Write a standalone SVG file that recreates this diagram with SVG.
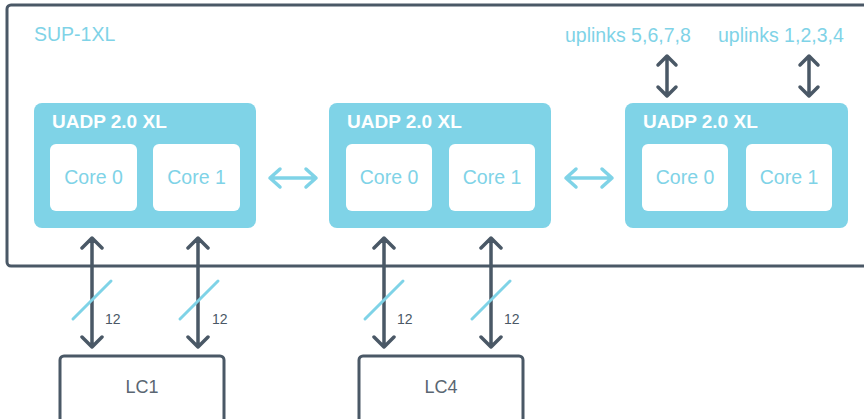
<svg xmlns="http://www.w3.org/2000/svg" width="864" height="419" viewBox="0 0 864 419">
<style>
.uadp{fill:#7fd3e7}
.core{fill:#ffffff}
.title{font-family:"Liberation Sans",Arial,sans-serif;font-weight:bold;font-size:19px;fill:#ffffff}
.coret{font-family:"Liberation Sans",Arial,sans-serif;font-size:19.5px;fill:#7fd3e7;text-anchor:middle}
.lbl{font-family:"Liberation Sans",Arial,sans-serif;font-size:19.5px;fill:#7fd3e7}
.n12{font-family:"Liberation Sans",Arial,sans-serif;font-size:14px;fill:#4a5866}
.lc{fill:#ffffff;stroke:#4a5866;stroke-width:3}
.lct{font-family:"Liberation Sans",Arial,sans-serif;font-size:18px;fill:#5a6672;text-anchor:middle}
.dark{stroke:#4a5866;stroke-width:3.5;fill:none;stroke-linecap:round;stroke-linejoin:round}
.light{stroke:#7fd3e7;stroke-width:3;fill:none;stroke-linecap:round;stroke-linejoin:round}
.lighta{stroke:#7fd3e7;stroke-width:3.5;fill:none;stroke-linecap:round;stroke-linejoin:round}
</style>
<rect width="864" height="419" fill="#ffffff"/>
<g id="sup">
<rect x="7" y="5" width="880" height="261" rx="4" fill="none" stroke="#4a5866" stroke-width="3"/>
<text class="lbl" x="34" y="41">SUP-1XL</text>
<text class="lbl" x="565" y="42">uplinks 5,6,7,8</text>
<text class="lbl" x="718" y="42">uplinks 1,2,3,4</text>
</g>
<g id="uadp1">
<rect class="uadp" x="34" y="103" width="222" height="125" rx="8"/>
<text class="title" x="52" y="128">UADP 2.0 XL</text>
<rect class="core" x="50" y="144" width="87" height="67" rx="6"/>
<text class="coret" x="93.5" y="184">Core 0</text>
<rect class="core" x="153" y="144" width="87" height="67" rx="6"/>
<text class="coret" x="196.5" y="184">Core 1</text>
</g>
<g id="uadp2">
<rect class="uadp" x="329" y="103" width="222" height="125" rx="8"/>
<text class="title" x="347" y="128">UADP 2.0 XL</text>
<rect class="core" x="346" y="144" width="86" height="67" rx="6"/>
<text class="coret" x="389" y="184">Core 0</text>
<rect class="core" x="449" y="144" width="86" height="67" rx="6"/>
<text class="coret" x="492" y="184">Core 1</text>
</g>
<g id="uadp3">
<rect class="uadp" x="625" y="103" width="223" height="125" rx="8"/>
<text class="title" x="643" y="128">UADP 2.0 XL</text>
<rect class="core" x="642" y="144" width="86" height="67" rx="6"/>
<text class="coret" x="685" y="184">Core 0</text>
<rect class="core" x="746" y="144" width="86" height="67" rx="6"/>
<text class="coret" x="789" y="184">Core 1</text>
</g>
<g id="lc1">
<rect class="lc" x="60" y="356" width="164" height="80" rx="4"/>
<text class="lct" x="142" y="393">LC1</text>
</g>
<g id="lc4">
<rect class="lc" x="359" y="356" width="164" height="80" rx="4"/>
<text class="lct" x="441" y="393">LC4</text>
</g>
<g id="connectors">
<path class="lighta" d="M270 178H316M280 169L270 178L280 187M306 169L316 178L306 187"/>
<path class="lighta" d="M566 178H612M576 169L566 178L576 187M602 169L612 178L602 187"/>
<path class="dark" d="M667 56V96M658 65L667 56L676 65M658 87L667 96L676 87"/>
<path class="dark" d="M809 56V96M800 65L809 56L818 65M800 87L809 96L818 87"/>
<path class="dark" d="M92 238V347M82 248L92 238L102 248M82 337L92 347L102 337"/>
<path class="dark" d="M198 238V347M188 248L198 238L208 248M188 337L198 347L208 337"/>
<path class="dark" d="M384 238V347M374 248L384 238L394 248M374 337L384 347L394 337"/>
<path class="dark" d="M491 238V347M481 248L491 238L501 248M481 337L491 347L501 337"/>
<path class="light" d="M73 319L111 281"/>
<path class="light" d="M180 319L218 281"/>
<path class="light" d="M365 319L403 281"/>
<path class="light" d="M472 319L510 281"/>
<text class="n12" x="105" y="324">12</text>
<text class="n12" x="212" y="324">12</text>
<text class="n12" x="397" y="324">12</text>
<text class="n12" x="504" y="324">12</text>
</g>
</svg>
